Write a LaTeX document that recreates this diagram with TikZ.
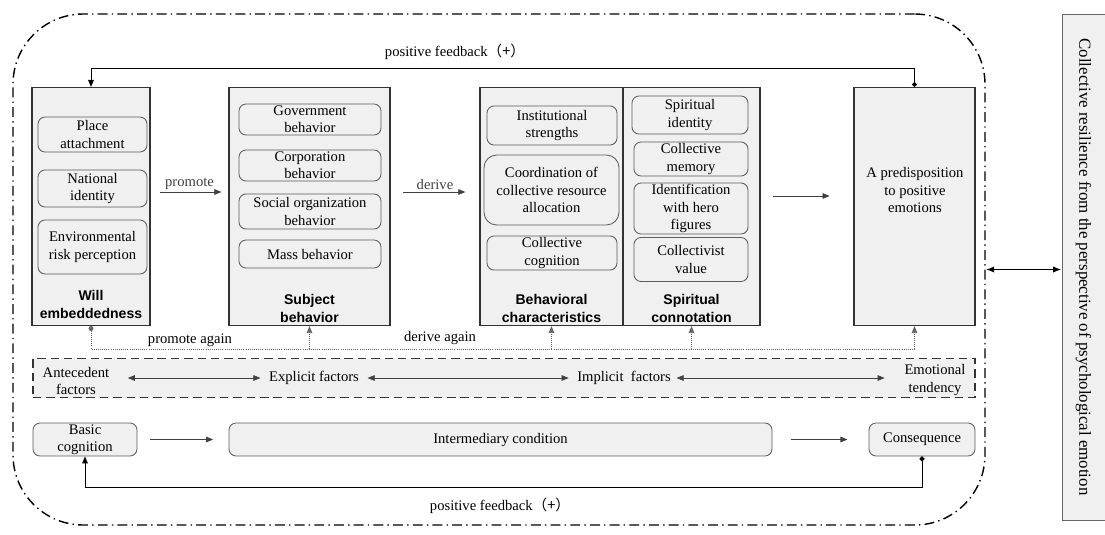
\documentclass[tikz,border=0pt]{standalone}
\usepackage{fontspec}
\setmainfont{Liberation Serif}
\newfontfamily\headfont{Liberation Sans}
\newfontfamily\cjk{Noto Sans CJK SC}
\usetikzlibrary{arrows.meta}
\newcommand{\pxu}{0.025cm}
\definecolor{boxfill}{HTML}{F0F0F0}
\definecolor{boxline}{HTML}{333333}

\begin{document}
\begin{tikzpicture}[x=0.025cm, y=-0.025cm,
    sz/.style 2 args={minimum width=#1*\pxu, minimum height=#2*\pxu, inner sep=0pt},
    outerbox/.style={draw=boxline, fill=boxfill, line width=0.8pt},
    item/.style={draw=boxline!80, fill=boxfill, rounded corners=5pt, line width=0.6pt, align=center, font=\fontsize{10.4}{12.4}\selectfont},
    ttl/.style={align=center, font=\headfont\bfseries\fontsize{10}{12.8}\selectfont},
    lbl/.style={align=center, font=\fontsize{10.4}{12.4}\selectfont},
    arr/.style={-{Triangle[length=5pt,width=4pt]}, line width=0.5pt, black!75},
    dbl/.style={{Triangle[length=5pt,width=4pt]}-{Triangle[length=5pt,width=4pt]}, line width=0.5pt, black!75},
    fb/.style={{Circle[length=3.5pt]}-{Triangle[length=5pt,width=4pt]}, line width=0.7pt},
    again/.style={densely dotted, line width=0.5pt, black!60}]
    \useasboundingbox (0,0) rectangle (1105,534);

    % outer frame and side panel
    \node[draw, line width=1pt, dash pattern=on 7pt off 3pt on 1pt off 3pt, rounded corners=50pt, sz={972}{511}] (frame) at (499,269.5) {};
    \node[draw=black!60, fill=boxfill, line width=0.6pt, sz={43}{506}] (side) at (1083.5,267) {};
    \node[rotate=-90, font=\fontsize{12}{14}\selectfont] (sideT) at (side.center) {Collective resilience from the perspective of psychological emotion};
    \draw[{Latex[length=6pt]}-{Latex[length=6pt]}, line width=1.4pt] (frame.east) -- (frame.east -| side.west);

    % main boxes
    \node[outerbox, sz={118}{238}] (will) at (91,206.5) {};
    \node[outerbox, sz={161}{238}] (subj) at (309.5,206.5) {};
    \node[outerbox, sz={143}{238}] (behav) at (551.5,206.5) {};
    \node[outerbox, sz={137}{238}] (spirit) at (691.5,206.5) {};
    \node[outerbox, sz={121}{238}] (pred) at (914.5,206.5) {};

    % will embeddedness
    \node[item, sz={109}{35}] (place) at (92.5,134.5) {Place\\attachment};
    \node[item, sz={109}{37}] (nation) at (92.5,188.5) {National\\identity};
    \node[item, sz={109}{54}] (envir) at (92.5,247) {Environmental\\risk perception};
    \node[ttl] (willT) at (91,304) {Will\\embeddedness};

    % subject behavior
    \node[item, sz={142}{31}] (gov) at (310,119.5) {Government\\behavior};
    \node[item, sz={142}{31}] (corp) at (310,165.5) {Corporation\\behavior};
    \node[item, sz={142}{35}] (social) at (310,211.5) {Social organization\\behavior};
    \node[item, sz={142}{28}] (mass) at (310,254) {Mass behavior};
    \node[ttl] (subjT) at (309.5,308) {Subject\\behavior};

    % behavioral characteristics
    \node[item, sz={130}{39}] (inst) at (552,125.5) {Institutional\\strengths};
    \node[item, sz={135}{70}, rounded corners=9pt] (coord) at (551.5,190) {Coordination of\\collective resource\\allocation};
    \node[item, sz={130}{34}] (cogn) at (552,253) {Collective\\cognition};
    \node[ttl] (behavT) at (551.5,308) {Behavioral\\characteristics};

    % spiritual connotation
    \node[item, sz={116}{38}] (sid) at (690,115) {Spiritual\\identity};
    \node[item, sz={114}{34}] (memory) at (691,159) {Collective\\memory};
    \node[item, sz={114}{51}] (hero) at (691,208.5) {Identification\\with hero\\figures};
    \node[item, sz={114}{44}] (value) at (691,259.5) {Collectivist\\value};
    \node[ttl] (spiritT) at (691.5,308) {Spiritual\\connotation};

    % emotional outcome
    \node[lbl] (predT) at (915,190) {A predisposition\\to positive\\emotions};

    % forward arrows
    \draw[arr, shorten <=7pt, shorten >=5pt] (will.east |- 0,192) -- node[lbl, above=-2pt] (promoteL) {promote} (subj.west |- 0,192);
    \draw[arr, shorten <=9pt, shorten >=10pt] (subj.east |- 0,192) -- node[lbl, above=-2pt] (deriveL) {derive} (behav.west |- 0,192);
    \draw[arr, shorten <=9pt, shorten >=17pt] (spirit.east |- 0,196) -- (pred.west |- 0,196);

    % top positive feedback
    \coordinate (topfb) at (500,68);
    \draw[fb] (pred.north) -- (pred.north |- topfb) -| (will.north);
    \node[lbl] (topfbL) at (455,52) {positive feedback{\cjk （+）}};

    % promote again / derive again
    \coordinate (dl) at (500,349);
    \draw[again, {Circle[length=3.5pt]}-] (will.south) -- (will.south |- dl) -- (pred.south |- dl);
    \foreach \n in {subj,behav,spirit,pred}
        \draw[again, -{Triangle[length=5pt,width=4pt]}] (\n.south |- dl) -- (\n.south);
    \node[lbl] (promoteA) at (190,340) {promote again};
    \node[lbl] (deriveA) at (440,338) {derive again};

    % factors row
    \node[draw=boxline, fill=boxfill, line width=0.8pt, dash pattern=on 6pt off 3.5pt, sz={942}{39}] (factors) at (504,378) {};
    \node[lbl, inner sep=1pt] (ante) at (76,381) {Antecedent\\factors};
    \node[lbl, inner sep=1pt] (expl) at (314,378) {Explicit factors};
    \node[lbl, inner sep=1pt] (impl) at (624,378) {Implicit\ \ factors};
    \node[lbl, inner sep=1pt] (emot) at (935,380) {Emotional\\tendency};
    \draw[dbl, shorten <=12pt, shorten >=5pt] (ante.east |- expl) -- (expl.west);
    \draw[dbl, shorten <=5pt, shorten >=5pt] (expl.east) -- (impl.west);
    \draw[dbl, shorten <=3pt, shorten >=13pt] (impl.east) -- (emot.west |- impl);

    % bottom row
    \node[item, sz={104}{33}] (basic) at (85,439.5) {Basic\\cognition};
    \node[item, sz={543}{33}] (inter) at (500.5,439.5) {Intermediary condition};
    \node[item, sz={106}{33}] (conseq) at (922,439.5) {Consequence};
    \draw[arr, shorten <=9pt, shorten >=11pt] (basic) -- (inter);
    \draw[arr, shorten <=13pt, shorten >=15pt] (inter) -- (conseq);

    % bottom positive feedback
    \coordinate (botfb) at (500,487);
    \draw[fb] (conseq.south) -- (conseq.south |- botfb) -| (basic.south);
    \node[lbl] (botfbL) at (500,506) {positive feedback{\cjk （+）}};
\end{tikzpicture}
\end{document}
